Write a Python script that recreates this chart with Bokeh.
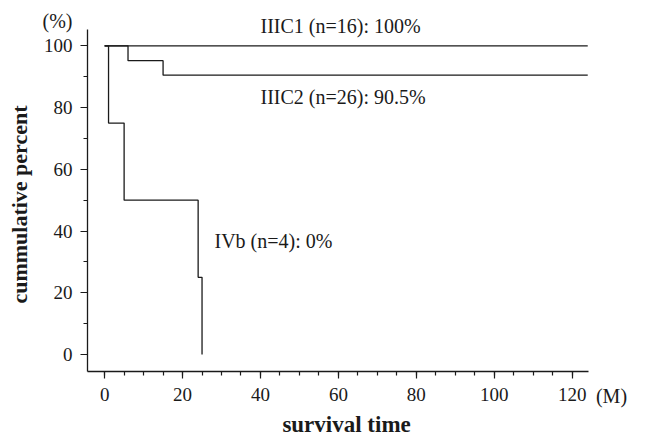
from bokeh.plotting import figure
from bokeh.models import Range1d, FixedTicker, Label
from bokeh.embed import file_html
from bokeh.resources import INLINE

# Kaplan-Meier data (time in months, cumulative percent)
iiic1_t = [0, 124]
iiic1_s = [100, 100]
iiic2_t = [0, 6, 15, 124]
iiic2_s = [100, 95.2, 90.5, 90.5]
ivb_t = [0, 1, 5, 24, 25]
ivb_s = [100, 75, 50, 25, 0]

x_ticks = [0, 20, 40, 60, 80, 100, 120]
x_minor = list(range(0, 125, 5))
y_ticks = [0, 20, 40, 60, 80, 100]
y_minor = list(range(0, 101, 10))

labels = ["IIIC1 (n=16): 100%", "IIIC2 (n=26): 90.5%", "IVb (n=4): 0%"]

FONT = "Liberation Serif"
INK = "#1a1a1a"

# axis extents (data units)
X_LO, X_HI = -4.4, 124.2
Y_LO, Y_HI = -5.5, 105.3

p = figure(width=647, height=438, output_backend="svg", toolbar_location=None,
           x_range=Range1d(-26.73, 139.34), y_range=Range1d(-27.21, 114.70),
           min_border=0)
p.outline_line_color = None
p.xgrid.grid_line_color = None
p.ygrid.grid_line_color = None
p.background_fill_color = "white"
p.border_fill_color = "white"

p.xaxis.fixed_location = Y_LO
p.yaxis.fixed_location = X_LO
p.xaxis.bounds = (X_LO, X_HI)
p.yaxis.bounds = (Y_LO, Y_HI)

for ax in (p.xaxis[0], p.yaxis[0]):
    ax.axis_line_width = 1.3
    ax.axis_line_color = INK
    ax.major_tick_line_color = INK
    ax.minor_tick_line_color = INK
    ax.major_tick_line_width = 1.2
    ax.minor_tick_line_width = 1.2
    ax.major_tick_in = 0
    ax.major_tick_out = 7
    ax.minor_tick_in = 0
    ax.minor_tick_out = 4
    ax.major_label_text_font = FONT
    ax.major_label_text_font_size = "19px"
    ax.major_label_text_color = INK

p.xaxis.ticker = FixedTicker(ticks=x_ticks, minor_ticks=x_minor)
p.yaxis.ticker = FixedTicker(ticks=y_ticks, minor_ticks=y_minor)
p.xaxis.major_label_standoff = 10
p.yaxis.major_label_standoff = 8

for t, s in ((iiic1_t, iiic1_s), (iiic2_t, iiic2_s), (ivb_t, ivb_s)):
    p.step(t, s, mode="after", line_color=INK, line_width=1.3)

def lab(x, y, text, size="20px", bold=False, align="left", angle=0, baseline="middle"):
    p.add_layout(Label(x=x, y=y, text=text, text_font=FONT, text_font_size=size,
                       text_font_style="bold" if bold else "normal", text_color=INK,
                       text_align=align, text_baseline=baseline, angle=angle, angle_units="deg"))

lab(40, 106.6, labels[0])
lab(40, 83.3, labels[1])
lab(28.2, 36.9, labels[2])
lab(-12.1, 108.2, "(%)", align="center")
lab(130.1, -13.3, "(M)", align="center")
lab(-21.85, 48.6, "cummulative percent", size="22px", bold=True, align="center", angle=90)
lab(62.1, -22.8, "survival time", size="23px", bold=True, align="center")

open("out.html", "w").write(file_html(p, INLINE))
